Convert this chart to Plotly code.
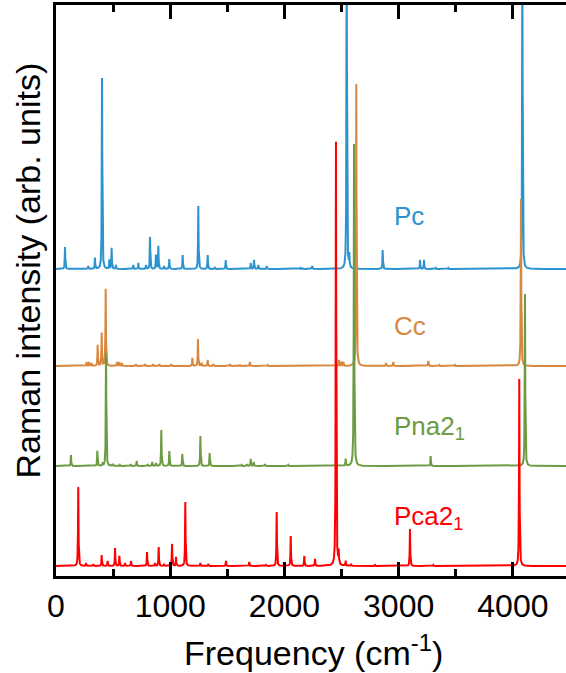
import numpy as np
import plotly.graph_objects as go

# Peak positions (cm^-1) and intensities (arb. units) for each structure
pc_pos = [79, 283, 341, 403, 467, 487, 525, 677, 721, 788, 823, 875, 896, 946, 992,
          1109, 1246, 1328, 1392, 1486, 1705, 1734, 1771, 1845, 2140, 2160, 2244,
          2545, 2568, 2860, 3187, 3222, 3327, 3435, 4083]
pc_int = [0.22, 0.03, 0.11, 1.91, 0.09, 0.21, 0.04, 0.04, 0.06, 0.04, 0.32, 0.14, 0.23, 0.03, 0.10,
          0.14, 0.63, 0.14, 0.02, 0.09, 0.06, 0.09, 0.04, 0.03, 0.01, 0.01, 0.03,
          3.40, 0.13, 0.19, 0.09, 0.09, 0.01, 0.01, 3.20]

cc_pos = [268, 290, 312, 365, 400, 435, 534, 555, 577, 700, 780, 850, 905, 1010,
          1194, 1243, 1275, 1328, 1377, 1523, 1611, 1698, 1853, 2478, 2498, 2517,
          2629, 2889, 2953, 3260, 3356, 3493, 4071]
cc_int = [0.04, 0.04, 0.03, 0.21, 0.33, 0.77, 0.04, 0.04, 0.03, 0.02, 0.02, 0.02, 0.02, 0.02,
          0.08, 0.27, 0.03, 0.06, 0.02, 0.02, 0.015, 0.04, 0.01, 0.06, 0.04, 0.04,
          2.82, 0.03, 0.04, 0.05, 0.01, 0.01, 1.67]

pna_pos = [131, 362, 409, 438, 496, 560, 654, 706, 803, 843, 875, 922, 992, 1106,
           1264, 1345, 1626, 1675, 1705, 1731, 1830, 2034, 2536, 2609, 3280, 4106]
pna_int = [0.11, 0.15, 0.03, 1.13, 0.02, 0.01, 0.02, 0.05, 0.02, 0.04, 0.03, 0.36, 0.15, 0.12,
           0.30, 0.13, 0.01, 0.02, 0.07, 0.04, 0.02, 0.01, 0.07, 3.22, 0.10, 1.72]

pca_pos = [195, 263, 327, 400, 452, 517, 555, 604, 657, 797, 867, 899, 946, 1016, 1051,
           1132, 1264, 1334, 1488, 1692, 1839, 1932, 2055, 2174, 2268, 2451, 2475,
           2536, 2583, 2793, 3099, 3303, 4056]
pca_int = [0.79, 0.03, 0.02, 0.11, 0.05, 0.18, 0.10, 0.03, 0.05, 0.14, 0.03, 0.19, 0.02, 0.22, 0.09,
           0.64, 0.03, 0.02, 0.05, 0.04, 0.01, 0.54, 0.30, 0.10, 0.07, 4.24, 0.13,
           0.05, 0.02, 0.01, 0.37, 0.01, 1.87]

names = ["Pc", "Cc", "Pna2<sub>1</sub>", "Pca2<sub>1</sub>"]
colors = ["#2b93cf", "#d8873f", "#6c9b42", "#ff0000"]
offsets = [2.97, 2.0, 1.0, 0.0]
label_y = [3.50, 2.40, 1.39, 0.49]
peaks = [(pc_pos, pc_int), (cc_pos, cc_int), (pna_pos, pna_int), (pca_pos, pca_int)]

x_ticks = [0, 1000, 2000, 3000, 4000]
freq = np.arange(0, 4501, 1.0)
hwhm = 2.5  # Lorentzian half width used to broaden each line


def spectrum(pos, inten):
    y = np.zeros_like(freq)
    for p, h in zip(pos, inten):
        y += h / (1.0 + ((freq - p) / hwhm) ** 2)
    return y


fig = go.Figure()
for (pos, inten), off, col, nm in zip(peaks, offsets, colors, names):
    fig.add_trace(go.Scatter(x=freq, y=spectrum(pos, inten) + off, mode="lines",
                             line=dict(color=col, width=2), name=nm,
                             hoverinfo="skip"))

font_family = "Arial, Liberation Sans, sans-serif"
for nm, col, ly in zip(names, colors, label_y):
    fig.add_annotation(x=2940, y=ly, xref="x", yref="y", text=nm, showarrow=False,
                       xanchor="left", yanchor="middle",
                       font=dict(family=font_family, size=26, color=col))

fig.add_annotation(x=-0.055, y=0.535, xref="paper", yref="paper",
                   text="Raman intensity (arb. units)", textangle=-90, showarrow=False,
                   xanchor="center", yanchor="middle",
                   font=dict(family=font_family, size=34, color="black"))
fig.add_annotation(x=0.504, y=-0.13, xref="paper", yref="paper",
                   text="Frequency (cm<sup>-1</sup>)", showarrow=False,
                   xanchor="center", yanchor="middle",
                   font=dict(family=font_family, size=34, color="black"))

fig.update_layout(
    width=566, height=673,
    margin=dict(l=56, r=0, t=5, b=97),
    paper_bgcolor="white", plot_bgcolor="white",
    showlegend=False,
    xaxis=dict(range=[0, 4465], tickvals=x_ticks, ticktext=[str(v) for v in x_ticks],
               ticks="inside", ticklen=14, tickwidth=3, tickcolor="black",
               minor=dict(dtick=500, ticks="inside", ticklen=7, tickwidth=3,
                          tickcolor="black"),
               showline=True, linewidth=3, linecolor="black", mirror="ticks",
               showgrid=False, zeroline=False,
               tickfont=dict(family=font_family, size=32, color="black")),
    yaxis=dict(range=[-0.10, 5.61], showticklabels=False, ticks="",
               showline=True, linewidth=3, linecolor="black", mirror=False,
               showgrid=False, zeroline=False),
)

fig.write_html("out.html")
